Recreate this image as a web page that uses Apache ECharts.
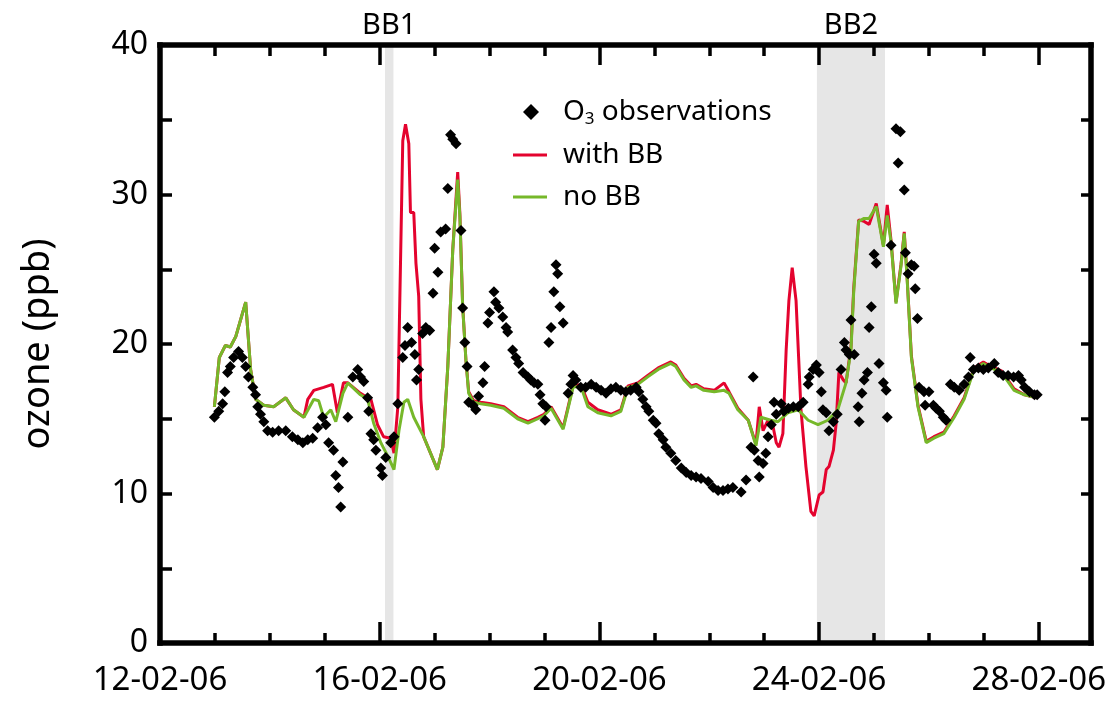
<!DOCTYPE html>
<html><head><meta charset="utf-8">
<script src="https://cdn.jsdelivr.net/npm/echarts@6/dist/echarts.min.js"></script>
<style>html,body{margin:0;padding:0;background:#fff}#c{width:1110px;height:701px}</style>
</head><body><div id="c"></div>
<script>
// ---- data (day of February 2006, ozone ppb) ----
const obsDay = [12.99,13.07,13.14,13.18,13.23,13.28,13.34,13.43,13.50,13.56,13.61,13.69,13.74,13.78,13.83,13.89,13.96,14.05,14.16,14.29,14.41,14.51,14.60,14.69,14.78,14.87,14.96,15.02,15.07,15.16,15.20,15.25,15.29,15.33,15.42,15.51,15.60,15.65,15.71,15.78,15.80,15.84,15.89,15.93,16.02,16.05,16.11,16.20,16.26,16.33,16.42,16.46,16.51,16.58,16.64,16.67,16.71,16.78,16.84,16.91,16.97,17.00,17.06,17.11,17.20,17.24,17.29,17.33,17.39,17.48,17.51,17.55,17.59,17.62,17.70,17.75,17.80,17.88,17.91,17.97,18.00,18.08,18.11,18.17,18.24,18.30,18.33,18.42,18.48,18.53,18.61,18.70,18.75,18.81,18.88,18.92,18.97,19.01,19.03,19.08,19.12,19.17,19.21,19.24,19.28,19.34,19.43,19.48,19.52,19.57,19.66,19.75,19.85,19.94,20.03,20.12,20.21,20.30,20.39,20.48,20.57,20.67,20.72,20.79,20.85,20.90,20.98,21.03,21.08,21.16,21.21,21.30,21.39,21.49,21.58,21.67,21.76,21.85,21.98,22.07,22.16,22.25,22.34,22.43,22.58,22.67,22.76,22.80,22.82,22.89,22.91,22.98,23.03,23.07,23.13,23.18,23.22,23.31,23.36,23.44,23.53,23.62,23.71,23.80,23.82,23.89,23.95,24.00,24.04,24.07,24.13,24.18,24.26,24.33,24.40,24.46,24.49,24.55,24.58,24.64,24.71,24.73,24.78,24.82,24.88,24.91,24.95,25.00,25.04,25.09,25.17,25.22,25.24,25.31,25.40,25.44,25.48,25.55,25.57,25.62,25.68,25.73,25.75,25.79,25.82,25.91,25.93,26.00,26.08,26.13,26.19,26.26,26.31,26.39,26.46,26.55,26.64,26.72,26.75,26.81,26.90,26.99,27.08,27.19,27.26,27.35,27.44,27.54,27.63,27.68,27.74,27.83,27.92,27.97];
const obsO3 = [15.1,15.5,16.0,16.8,18.1,18.5,19.1,19.5,19.1,18.5,17.8,17.1,16.6,15.8,15.3,14.8,14.2,14.1,14.2,14.2,13.8,13.6,13.4,13.6,13.7,14.4,15.1,14.6,13.4,12.9,11.2,10.4,9.1,12.1,15.1,17.8,18.3,17.8,17.5,16.4,15.5,14.0,13.6,12.9,11.7,11.2,12.4,13.4,13.8,16.0,19.1,19.9,21.1,20.1,19.3,17.6,18.3,20.7,21.1,20.9,23.4,26.4,24.8,27.5,27.7,30.4,34.0,33.7,33.4,27.6,22.4,20.1,18.5,16.1,15.9,15.6,16.5,17.4,18.5,21.4,22.1,23.5,22.8,22.4,21.8,21.1,20.8,19.6,19.1,18.7,18.1,17.8,17.6,17.4,17.3,16.6,16.0,14.9,15.8,20.1,21.1,23.5,25.3,24.7,22.5,21.4,16.7,17.3,17.9,17.6,17.1,17.1,17.3,17.1,16.9,16.7,17.0,17.1,16.9,16.8,16.9,17.1,16.8,16.3,15.8,15.5,14.9,14.7,14.0,13.6,13.1,12.7,12.2,11.7,11.4,11.2,11.1,11.0,10.8,10.4,10.2,10.2,10.3,10.4,10.1,10.9,13.1,17.8,12.9,12.2,11.1,12.0,12.7,13.8,14.6,16.1,15.3,16.0,15.5,15.7,15.8,15.8,16.1,17.3,17.8,18.3,18.6,18.1,16.8,15.6,15.4,14.2,14.8,15.3,18.3,20.1,19.6,19.3,21.6,19.3,15.8,14.8,16.7,17.6,18.1,21.1,22.5,26.0,25.4,18.7,17.4,16.9,15.1,26.6,34.4,32.1,34.2,30.3,26.1,24.7,25.3,25.2,23.7,21.7,17.1,16.8,15.9,16.8,15.9,15.7,15.5,15.1,14.9,17.3,17.1,16.9,17.3,17.8,19.1,18.3,18.4,18.3,18.4,18.7,18.1,17.9,17.9,17.8,17.9,17.6,17.1,16.8,16.6,16.6];

const noBBDay = [12.99,13.08,13.19,13.28,13.38,13.56,13.65,13.74,13.89,14.07,14.29,14.43,14.62,14.80,14.89,14.98,15.11,15.20,15.33,15.42,15.65,15.78,15.89,16.02,16.16,16.26,16.35,16.44,16.51,16.62,16.80,17.05,17.15,17.24,17.33,17.42,17.46,17.51,17.57,17.62,17.71,17.84,18.02,18.26,18.51,18.70,18.88,18.99,19.12,19.34,19.52,19.66,19.79,19.97,20.21,20.39,20.52,20.70,20.88,21.07,21.30,21.39,21.54,21.67,21.76,21.90,22.09,22.27,22.36,22.52,22.71,22.85,22.94,23.12,23.25,23.43,23.62,23.80,23.98,24.16,24.34,24.49,24.58,24.63,24.72,24.82,24.91,25.04,25.17,25.24,25.31,25.40,25.49,25.55,25.60,25.68,25.80,25.95,26.09,26.27,26.46,26.64,26.82,26.99,27.13,27.32,27.55,27.74,27.96];
const noBBO3 = [15.8,19.1,19.9,19.8,20.5,22.8,18.3,16.3,15.9,15.8,16.4,15.6,15.1,16.3,16.2,15.1,15.6,14.8,16.7,17.4,16.6,16.3,14.7,13.4,12.4,11.6,14.2,16.1,16.3,15.1,13.8,11.6,13.1,18.5,26.3,31.0,28.5,22.5,18.9,16.7,16.1,16.0,15.9,15.7,15.0,14.7,15.0,15.2,15.7,14.3,17.1,17.2,15.8,15.4,15.2,15.5,17.1,17.3,17.8,18.3,18.7,18.5,17.6,17.1,17.2,16.9,16.8,16.9,16.7,15.6,14.9,13.2,15.1,14.9,14.8,15.4,15.6,14.9,14.6,14.9,15.6,17.4,19.6,23.5,28.2,28.4,28.4,29.2,26.5,28.6,26.8,22.7,25.2,27.4,24.5,19.1,15.8,13.4,13.7,14.0,15.1,16.3,18.3,18.7,18.4,18.1,16.9,16.6,16.4];

const withBBDay = [12.99,13.08,13.19,13.28,13.38,13.56,13.65,13.74,13.89,14.07,14.29,14.43,14.62,14.69,14.80,14.98,15.14,15.23,15.34,15.42,15.65,15.78,15.84,15.96,16.07,16.20,16.26,16.33,16.42,16.47,16.53,16.56,16.62,16.66,16.71,16.75,16.80,17.05,17.15,17.24,17.33,17.42,17.46,17.51,17.57,17.62,17.71,17.84,18.02,18.26,18.51,18.70,18.88,18.99,19.12,19.34,19.52,19.66,19.79,19.97,20.21,20.39,20.52,20.70,20.88,21.07,21.30,21.39,21.54,21.67,21.76,21.90,22.09,22.27,22.36,22.52,22.71,22.85,22.91,22.98,23.07,23.16,23.22,23.27,23.34,23.40,23.45,23.51,23.58,23.67,23.76,23.85,23.91,24.00,24.07,24.13,24.18,24.26,24.31,24.36,24.44,24.49,24.58,24.63,24.72,24.82,24.91,25.04,25.17,25.24,25.31,25.40,25.49,25.55,25.60,25.68,25.80,25.95,26.09,26.27,26.46,26.64,26.82,26.99,27.13,27.32,27.55,27.74,27.96];
const withBBO3 = [15.8,19.1,19.9,19.8,20.5,22.8,18.3,16.3,15.9,15.8,16.4,15.6,15.1,16.3,16.9,17.1,17.3,15.4,17.4,17.4,16.7,16.4,16.3,14.6,13.8,13.7,12.7,15.8,33.6,34.7,33.4,28.8,28.8,25.4,23.2,16.3,13.8,11.6,13.1,18.5,26.3,31.5,28.7,22.6,18.9,16.8,16.2,16.1,16.0,15.8,15.1,14.8,15.1,15.3,15.8,14.4,17.2,17.3,16.1,15.6,15.3,15.6,17.2,17.4,17.9,18.4,18.8,18.6,17.7,17.2,17.3,17.0,16.9,17.4,16.8,15.7,14.9,13.3,15.8,14.2,14.9,14.5,13.4,13.1,14.0,19.6,22.9,25.1,22.9,15.6,11.8,8.8,8.5,9.9,10.1,11.6,11.8,12.9,14.7,18.1,17.6,17.4,19.8,23.7,28.3,28.2,28.0,29.4,26.6,29.3,26.9,22.8,25.3,27.5,24.6,19.2,15.9,13.5,13.8,14.1,15.2,16.4,18.4,18.8,18.5,18.2,17.0,16.6,16.4];

const xTickDays = [12, 16, 20, 24, 28];
const xTickLabels = ['12-02-06', '16-02-06', '20-02-06', '24-02-06', '28-02-06'];
const xMinorDays = [12,13,14,15,16,17,18,19,20,21,22,23,24,25,26,27,28];
const yMinorTicks = [0,5,10,15,20,25,30,35,40];
const bbPeriods = [
  { name: 'BB1', from: 16.097, to: 16.25 },
  { name: 'BB2', from: 23.96, to: 25.2 }
];
const seriesNames = ['O3 observations', 'with BB', 'no BB'];

// ---- chart ----
const FONT = 'Noto Sans';
const zip = (a, b) => a.map((v, i) => [v, b[i]]);
const AX = { color: '#000', width: 5.5, cap: 'square' };
const TK = { color: '#000', width: 3.5 };
const xBase = { type: 'value', min: 12, max: 28.95, splitLine: { show: false } };
const legendText = (pad) => ({
  fontFamily: FONT, fontSize: 28, color: '#000', lineHeight: 32, padding: [0, 0, 0, pad],
  rich: {
    n: { fontFamily: FONT, fontSize: 28, color: '#000', lineHeight: 32 },
    s: { fontFamily: FONT, fontSize: 17, color: '#000', lineHeight: 14, verticalAlign: 'bottom' }
  }
});
const legendFmt = n => n === 'O3 observations' ? '{n|O}{s|3}{n| observations}' : n;

const chart = echarts.init(document.getElementById('c'), null, { renderer: 'canvas' });
chart.setOption({
  animation: false,
  backgroundColor: '#fff',
  grid: { left: 160, right: 19, top: 45, bottom: 58 },
  xAxis: [
    Object.assign({}, xBase, {
      position: 'bottom', z: 3,
      axisLine: { show: true, lineStyle: AX },
      axisTick: { show: true, inside: true, length: 21, lineStyle: TK, customValues: xTickDays },
      axisLabel: { customValues: xTickDays, formatter: v => xTickLabels[xTickDays.indexOf(v)],
        fontSize: 33, fontFamily: FONT, color: '#000', margin: 21 }
    }),
    Object.assign({}, xBase, {
      position: 'bottom', z: 3,
      axisLine: { show: false },
      axisTick: { show: true, inside: true, length: 10, lineStyle: TK, customValues: xMinorDays },
      axisLabel: { show: false }
    }),
    Object.assign({}, xBase, {
      position: 'top', z: 3,
      axisLine: { show: true, lineStyle: AX },
      axisTick: { show: true, inside: true, length: 20, lineStyle: TK, customValues: xTickDays },
      axisLabel: { show: false }
    }),
    Object.assign({}, xBase, {
      position: 'top', z: 3,
      axisLine: { show: false },
      axisTick: { show: true, inside: true, length: 11, lineStyle: TK, customValues: xMinorDays },
      axisLabel: { show: false }
    })
  ],
  yAxis: [
    {
      type: 'value', min: 0, max: 40, interval: 10, position: 'left', z: 3,
      splitLine: { show: false },
      axisLine: { show: true, lineStyle: AX },
      axisTick: { show: true, inside: true, length: 12, lineStyle: TK, customValues: yMinorTicks },
      axisLabel: { fontSize: 32, fontFamily: FONT, color: '#000', margin: 12 },
      name: 'ozone (ppb)', nameLocation: 'middle', nameGap: 103,
      nameTextStyle: { fontSize: 38, fontFamily: FONT, color: '#000' }
    },
    {
      type: 'value', min: 0, max: 40, interval: 10, position: 'right', z: 3,
      splitLine: { show: false },
      axisLine: { show: true, lineStyle: AX },
      axisTick: { show: true, inside: true, length: 10, lineStyle: TK, customValues: yMinorTicks },
      axisLabel: { show: false }
    }
  ],
  legend: [
    {
      orient: 'vertical', left: 523, top: 96, padding: 0,
      itemWidth: 16, itemHeight: 16, icon: 'diamond',
      itemStyle: { opacity: 1 },
      data: seriesNames.slice(0, 1), formatter: legendFmt, textStyle: legendText(19)
    },
    {
      orient: 'vertical', left: 513, top: 139, padding: 0,
      itemWidth: 34, itemHeight: 3, itemGap: 10, icon: 'rect',
      data: seriesNames.slice(1), formatter: legendFmt, textStyle: legendText(11)
    }
  ],
  series: [
    {
      type: 'line', name: 'bands', data: [], z: 1, silent: true,
      markArea: {
        silent: true,
        itemStyle: { color: '#e6e6e6' },
        label: { show: true, position: 'top', distance: 5, fontSize: 29, fontFamily: FONT, color: '#000' },
        data: bbPeriods.map(p => [{ name: p.name, xAxis: p.from }, { xAxis: p.to }])
      }
    },
    {
      type: 'line', name: 'with BB', data: zip(withBBDay, withBBO3), symbol: 'none', z: 4,
      lineStyle: { color: '#e4032e', width: 3 }, itemStyle: { color: '#e4032e' }
    },
    {
      type: 'line', name: 'no BB', data: zip(noBBDay, noBBO3), symbol: 'none', z: 5,
      lineStyle: { color: '#76b82a', width: 3 }, itemStyle: { color: '#76b82a' }
    },
    {
      type: 'scatter', name: 'O3 observations', data: zip(obsDay, obsO3), z: 6,
      symbol: 'diamond', symbolSize: 11, itemStyle: { color: '#000', opacity: 1 }
    }
  ]
});
</script></body></html>
